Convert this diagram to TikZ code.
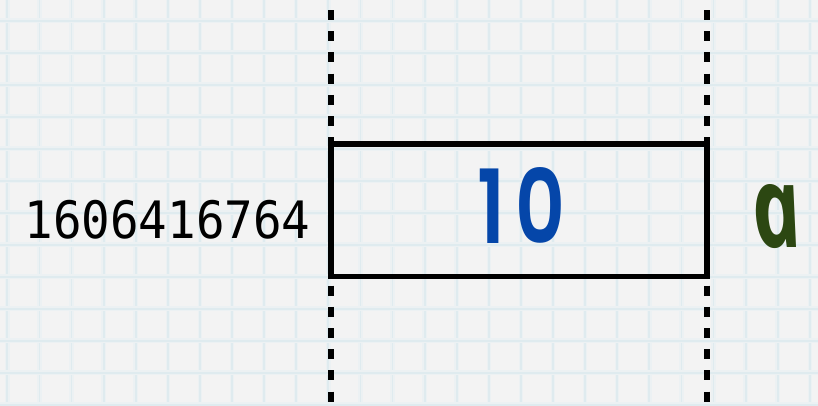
\documentclass[tikz,border=0pt]{standalone}
\usepackage{fontspec}
\newfontfamily\monofont{DejaVu Sans Mono}
\newfontfamily\handfont{Poppins SemiBold}
\newfontfamily\namefont{Open Sans Bold Italic}
\definecolor{paper}{HTML}{F3F3F3}
\definecolor{gridsoft}{HTML}{ECF1F3}
\definecolor{gridcore}{HTML}{DFEBEF}
\definecolor{valblue}{HTML}{0546A9}
\definecolor{namegreen}{HTML}{2C4712}
\tikzset{
  gridsoftline/.style={draw=gridsoft, line width=4.5pt},
  gridcoreline/.style={draw=gridcore, line width=1.8pt},
  guide/.style={draw=black, line width=5.2pt, dash pattern=on 10pt off 11.2pt, dash phase=11.2pt},
  cellbox/.style={draw=black, line width=5.2pt, line join=miter},
  txt/.style={inner sep=0pt, outer sep=0pt, anchor=center}
}
\begin{document}
\begin{tikzpicture}[x=1pt, y=-1pt]
  \fill[paper] (0,0) rectangle (818,405);
  \useasboundingbox (0,0) rectangle (818,405);
  % grid
  \foreach \i in {0,...,25} {
    \draw[gridsoftline] ({7.3+32.1*\i},0) -- ({7.3+32.1*\i},405);
    \draw[gridcoreline] ({7.3+32.1*\i},0) -- ({7.3+32.1*\i},405);
  }
  \foreach \j in {0,...,12} {
    \draw[gridsoftline] (0,{20.7+32*\j}) -- (818,{20.7+32*\j});
    \draw[gridcoreline] (0,{20.7+32*\j}) -- (818,{20.7+32*\j});
  }
  % guide lines
  \coordinate (gLtop) at (331,0);
  \coordinate (gLbot) at (331,405);
  \coordinate (gRtop) at (707,0);
  \coordinate (gRbot) at (707,405);
  \draw[guide] (gLtop) -- (gLbot);
  \draw[guide] (gRtop) -- (gRbot);
  % cell
  \coordinate (cellNW) at (331,144);
  \coordinate (cellSE) at (707,276.5);
  \draw[cellbox] (cellNW) rectangle (cellSE);
  % texts
  \node[txt] (value) at (521.5,205) {\color{valblue}\resizebox{87pt}{76pt}{\handfont 1\kern0.12em0}};
  \begin{scope}[shift={(776.5,216.5)}]
    \node[txt, transform shape, xslant=-0.2] (name) at (0,0) {\color{namegreen}\resizebox{49pt}{63pt}{\namefont a}};
  \end{scope}
  \node[txt] (addr) at (167.5,219.5) {\scalebox{1}[1.085]{\fontsize{47.5pt}{50pt}\monofont 1606416764}};
\end{tikzpicture}
\end{document}
